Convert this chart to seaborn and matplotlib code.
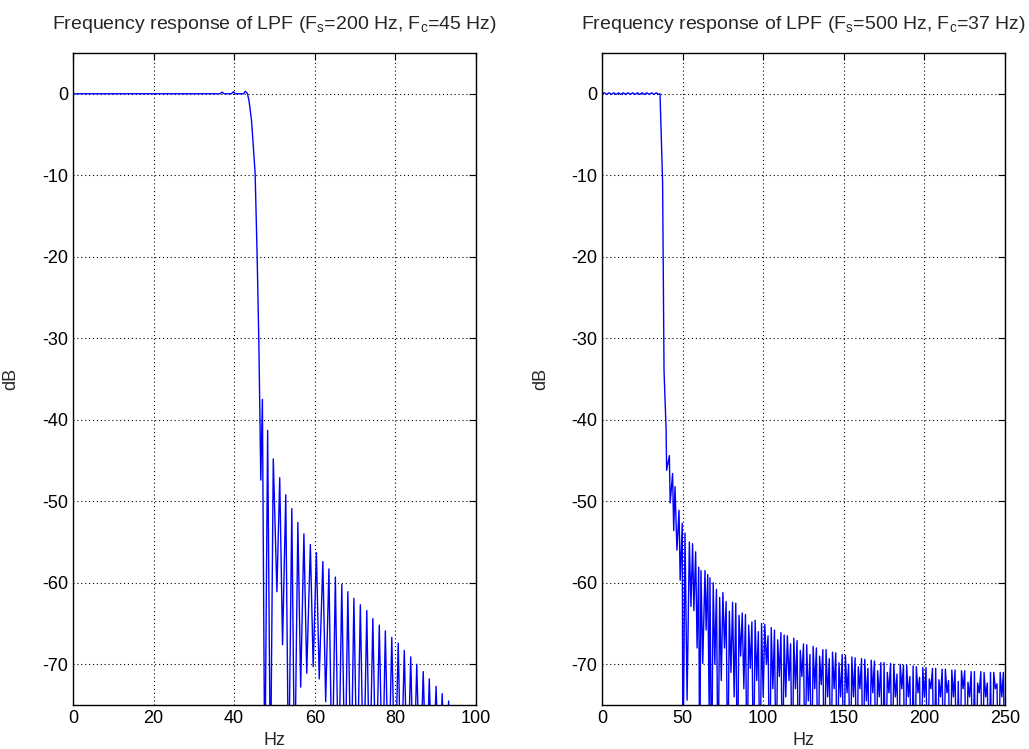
import numpy as np
import pandas as pd
import matplotlib
matplotlib.use('Agg')
import matplotlib.pyplot as plt
import seaborn as sns

# ─── DATA ───────────────────────────────────────────────────────────────────
# left panel: Fs = 200 Hz, Fc = 45 Hz
l_pass_hz = [0, 36.5, 37.0, 37.5, 39.3, 39.8, 40.3, 42.3, 42.8, 43.3, 43.7,
             44.3, 44.7, 45.2, 45.7, 46.1, 46.4, 46.6]
l_pass_db = [0, 0, 0.2, 0, 0, 0.25, 0, 0, 0.3, 0, -0.9,
             -3.3, -6.1, -9.8, -20, -30, -40, -47.4]
l_peak_hz = [47.0, 48.3, 49.7, 51.3, 52.8, 54.3, 55.8, 57.3, 58.9, 60.4,
             62.0, 63.5, 65.1, 66.7, 68.2, 69.7, 71.3, 72.9, 74.4, 76.0,
             77.5, 79.1, 80.7, 82.2, 83.8, 85.3, 86.9, 88.4, 90.1, 91.6, 93.2]
l_peak_db = [-37.5, -41.3, -44.8, -47.1, -49.2, -50.9, -52.6, -54.0, -55.3, -56.3,
             -57.4, -58.3, -59.3, -60.2, -61.1, -61.9, -62.7, -63.4, -64.4, -65.2,
             -65.9, -66.7, -67.4, -68.3, -69.1, -70.0, -70.9, -71.8, -72.7, -73.6, -74.5]
l_null_hz = [47.6, 49.0, 50.6, 52.0, 53.5, 55.0, 56.5, 58.0, 59.6, 61.1,
             62.7, 64.3, 65.9, 67.5, 69.0, 70.5, 72.1, 73.6, 75.2, 76.8,
             78.3, 79.9, 81.4, 83.0, 84.5, 86.1, 87.7, 89.2, 90.8, 92.4, 94.0, 100]
l_null_db = [-85, -85, -61.1, -67.6, -85, -85, -72.8, -71.1, -70.3, -71.8,
             -74.6, -85, -85, -85, -85, -85, -85, -85, -85, -85,
             -85, -85, -85, -85, -85, -85, -85, -85, -85, -85, -85, -90]

# right panel: Fs = 500 Hz, Fc = 37 Hz
r_pass_hz = [0, 1.4, 2.9, 4.4, 5.8, 7.3, 8.8, 10.2, 11.7, 13.2, 14.6, 16.1, 17.6,
             19.0, 20.5, 22.0, 23.4, 24.9, 26.4, 27.8, 29.3, 30.8, 32.2, 33.7, 35.2,
             36.0, 36.3, 37.6, 38.5, 39.1]
r_pass_db = [0, 0.12, -0.08, 0.12, -0.08, 0.12, -0.08, 0.12, -0.08, 0.12, -0.08, 0.12, -0.08,
             0.12, -0.08, 0.12, -0.08, 0.12, -0.08, 0.12, -0.08, 0.12, -0.08, 0.12, -0.08,
             0, -2, -10.7, -34, -37.2]
r_peak_hz = [39.8, 41.8, 43.8, 45.3, 47.8, 49.8, 51.5, 54.2, 56.2, 58.1, 60.0, 61.4,
             63.9, 65.6, 67.0,
             69, 71, 73, 75, 77, 79, 81, 83, 85, 87, 89, 91, 93, 95, 97, 99,
             101, 103, 105, 107, 109, 111, 113, 115, 117, 119, 121, 123, 125, 127,
             129, 131, 133, 135, 137, 139, 141, 143, 145, 147, 149, 151, 153, 155,
             157, 159, 161, 163, 165, 167, 169, 171, 173, 175, 177, 179, 181, 183,
             185, 187, 189, 191, 193, 195, 197, 199, 201, 203, 205, 207, 209, 211,
             213, 215, 217, 219, 221, 223, 225, 227, 229, 231, 233, 235, 237, 239,
             241, 243, 245, 247, 249]
r_peak_db = [-41.3, -44.4, -46.6, -48.2, -51.1, -52.7, -53.9, -55.0, -55.2, -56.2, -58.1, -58.5,
             -58.5, -59.0, -59.4,
             -60.0, -60.8, -61.8, -61.2, -62.3, -63.5, -62.4, -62.5, -64.0, -63.7, -63.9, -65.2,
             -64.8, -64.6, -66.0, -65.0,
             -65.1, -66.5, -65.5, -65.8, -67.0, -66.1, -66.4, -66.5, -67.5, -66.8, -67.1, -68.3,
             -67.5, -67.6,
             -68.8, -67.8, -68.0, -69.0, -68.2, -68.2, -69.3, -68.5, -68.6, -69.8, -68.8, -68.9,
             -70.0, -69.1,
             -69.2, -70.3, -69.3, -69.4, -70.5, -69.5, -69.6, -70.8, -69.8, -69.8, -71.0, -69.9,
             -70.0, -71.2,
             -70.0, -70.1, -70.1, -71.5, -70.2, -70.3, -71.6, -70.4, -70.4, -71.8, -70.5, -70.5,
             -71.9, -70.6,
             -70.6, -72.0, -70.7, -70.7, -72.1, -70.8, -70.8, -72.2, -70.9, -70.9, -72.3, -70.9,
             -71.0, -72.3,
             -71.0, -71.0, -72.4, -71.0, -71.0]
r_null_hz = [40.1, 42.3, 44.5, 46.5, 48.5, 50.2, 52.8, 55.2, 57.0, 59.0, 60.6, 62.5,
             64.6, 66.5, 68.0,
             70, 72, 74, 76, 78, 80, 82, 84, 86, 88, 90, 92, 94, 96, 98, 100,
             102, 104, 106, 108, 110, 112, 114, 116, 118, 120, 122, 124, 126, 128,
             130, 132, 134, 136, 138, 140, 142, 144, 146, 148, 150, 152, 154, 156,
             158, 160, 162, 164, 166, 168, 170, 172, 174, 176, 178, 180, 182, 184,
             186, 188, 190, 192, 194, 196, 198, 200, 202, 204, 206, 208, 210, 212,
             214, 216, 218, 220, 222, 224, 226, 228, 230, 232, 234, 236, 238, 240,
             242, 244, 246, 248, 250]
r_null_db = [-46.2, -50.2, -53.6, -56.0, -59.7, -85, -74.4, -62.9, -63.4, -68.0, -85, -69.9,
             -65.8, -76, -85,
             -70, -85, -72, -68, -85, -71, -74, -85, -69, -73, -85, -70.5, -85, -72, -85, -74,
             -70, -85, -73, -85, -71.5, -85, -74, -72, -85, -73, -85, -71.5, -85, -74.5,
             -85, -73, -85, -72.5, -85, -74, -85, -73, -85, -74, -85, -73.5, -85, -74,
             -85, -73, -85, -74.5, -85, -73.5, -85, -74, -85, -85, -73.5, -85, -74, -85,
             -73, -85, -74, -85, -85, -73.5, -85, -74, -85, -73, -85, -85, -74, -85,
             -73.5, -85, -74, -85, -85, -73, -85, -74, -85, -85, -73.5, -85, -74, -85,
             -85, -73, -85, -74, -85]


def build(parts_hz, parts_db):
    hz = np.concatenate([np.asarray(p, float) for p in parts_hz])
    db = np.concatenate([np.asarray(p, float) for p in parts_db])
    order = np.argsort(hz, kind='stable')
    return pd.DataFrame({'Hz': hz[order], 'dB': db[order]})


left_df = build([l_pass_hz, l_peak_hz, l_null_hz], [l_pass_db, l_peak_db, l_null_db])
right_df = build([r_pass_hz, r_peak_hz, r_null_hz], [r_pass_db, r_peak_db, r_null_db])

# ─── PLOT ───────────────────────────────────────────────────────────────────
sns.set_style('white')
plt.rcParams['font.family'] = ['Liberation Sans', 'DejaVu Sans']
plt.rcParams['mathtext.fontset'] = 'custom'
plt.rcParams['mathtext.rm'] = 'Liberation Sans'
plt.rcParams['mathtext.it'] = 'Liberation Sans'
plt.rcParams['axes.unicode_minus'] = False

fig = plt.figure(figsize=(10.29, 7.49), dpi=100)
ax1 = fig.add_axes([0.0709, 0.0587, 0.3917, 0.8705])
ax2 = fig.add_axes([0.5850, 0.0587, 0.3917, 0.8705])

panels = [
    (ax1, left_df, 100, np.arange(0, 101, 20),
     r'Frequency response of LPF (F$_\mathrm{s}$=200 Hz, F$_\mathrm{c}$=45 Hz)'),
    (ax2, right_df, 250, np.arange(0, 251, 50),
     r'Frequency response of LPF (F$_\mathrm{s}$=500 Hz, F$_\mathrm{c}$=37 Hz)'),
]

for ax, df, xmax, xt, title in panels:
    sns.lineplot(data=df, x='Hz', y='dB', estimator=None, sort=False,
                 color=(0, 0, 1), lw=1.0, ax=ax)
    ax.set_xlim(0, xmax)
    ax.set_ylim(-75, 5)
    ax.set_xticks(xt)
    ax.set_yticks(np.arange(-70, 1, 10))
    ax.grid(True, color='black', linestyle=(0, (1, 2.5)), linewidth=0.8)
    ax.tick_params(direction='in', top=True, right=True, length=5,
                   labelsize=13, colors='black', width=0.8)
    for s in ax.spines.values():
        s.set_color('black')
        s.set_linewidth(1.0)
    ax.set_xlabel('Hz', fontsize=13, labelpad=4)
    ax.set_ylabel('dB', fontsize=13, labelpad=16)
    ax.set_title(title, fontsize=14, pad=17)

fig.savefig('out.png', dpi=100)
